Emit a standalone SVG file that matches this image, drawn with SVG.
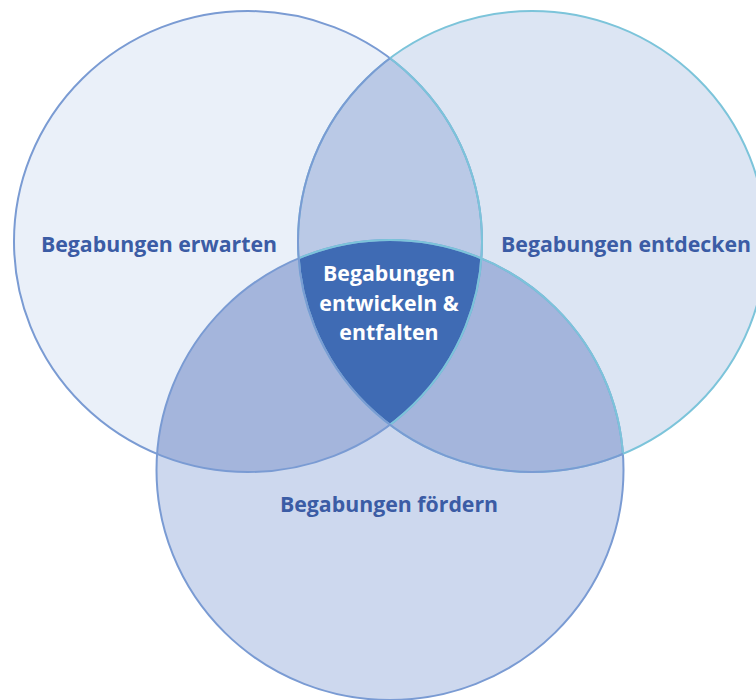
<svg xmlns="http://www.w3.org/2000/svg" width="756" height="700" viewBox="0 0 756 700">
  <style>
    .lbl { font-family: "Open Sans", "Liberation Sans", sans-serif; font-weight: bold; font-size: 21.3px; fill: #3b5ca5; text-anchor: middle; }
    .lbl-c { fill: #ffffff; }
    .sb { fill: none; stroke: #7a9bd3; stroke-width: 2; }
    .sc { fill: none; stroke: #7cc4da; stroke-width: 2; }
  </style>
  <defs>
    <clipPath id="clipL"><ellipse cx="248" cy="241.5" rx="234" ry="230.5"/></clipPath>
    <clipPath id="clipR"><ellipse cx="532" cy="241.5" rx="234" ry="230.5"/></clipPath>
    <clipPath id="clipB"><ellipse cx="390" cy="470" rx="233.5" ry="230"/></clipPath>
    <clipPath id="clipLB">
      <ellipse cx="248" cy="241.5" rx="234" ry="230.5"/>
      <ellipse cx="390" cy="470" rx="233.5" ry="230"/>
    </clipPath>
  </defs>
  <rect width="756" height="700" fill="#ffffff"/>

  <g id="circle-left">
    <ellipse cx="248" cy="241.5" rx="234" ry="230.5" fill="#eaf0f9"/>
  </g>
  <g id="circle-right">
    <ellipse cx="532" cy="241.5" rx="234" ry="230.5" fill="#dce5f3"/>
  </g>
  <g id="circle-bottom">
    <ellipse cx="390" cy="470" rx="233.5" ry="230" fill="#cdd8ee"/>
  </g>

  <g id="overlaps">
    <ellipse cx="248" cy="241.5" rx="234" ry="230.5" fill="#bac9e6" clip-path="url(#clipR)"/>
    <ellipse cx="390" cy="470" rx="233.5" ry="230" fill="#a4b5dc" clip-path="url(#clipL)"/>
    <ellipse cx="390" cy="470" rx="233.5" ry="230" fill="#a4b5dc" clip-path="url(#clipR)"/>
  </g>

  <g id="center">
    <g clip-path="url(#clipB)">
      <ellipse cx="248" cy="241.5" rx="234" ry="230.5" fill="#3f6bb4" clip-path="url(#clipR)"/>
    </g>
  </g>

  <g id="outlines">
    <ellipse class="sb" cx="248" cy="241.5" rx="234" ry="230.5"/>
    <ellipse class="sb" cx="390" cy="470" rx="233.5" ry="230"/>
    <ellipse class="sc" cx="248" cy="241.5" rx="234" ry="230.5" clip-path="url(#clipR)"/>
    <ellipse class="sc" cx="390" cy="470" rx="233.5" ry="230" clip-path="url(#clipR)"/>
    <ellipse class="sc" cx="532" cy="241.5" rx="234" ry="230.5"/>
    <ellipse class="sb" cx="532" cy="241.5" rx="234" ry="230.5" clip-path="url(#clipLB)"/>
  </g>

  <g id="labels">
    <text class="lbl" x="159" y="252">Begabungen erwarten</text>
    <text class="lbl" x="626" y="252">Begabungen entdecken</text>
    <text class="lbl" x="389" y="512">Begabungen fördern</text>
    <text class="lbl lbl-c" x="389" y="281">Begabungen</text>
    <text class="lbl lbl-c" x="389" y="311">entwickeln &amp;</text>
    <text class="lbl lbl-c" x="389" y="340">entfalten</text>
  </g>
</svg>
